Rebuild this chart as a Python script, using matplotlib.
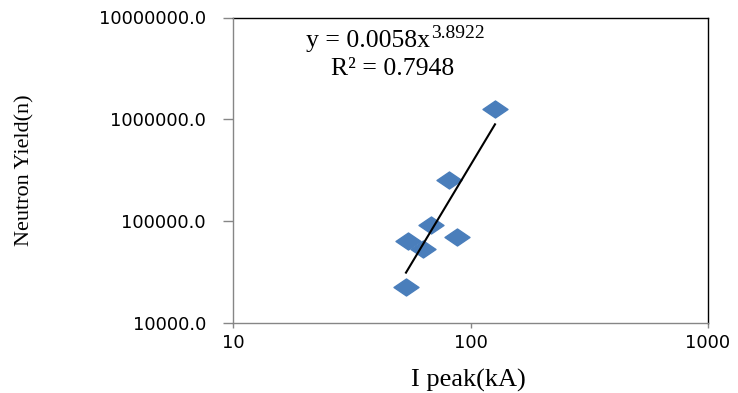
import matplotlib
matplotlib.use("Agg")
import matplotlib.pyplot as plt
import numpy as np
from matplotlib.path import Path
from matplotlib.ticker import FixedLocator, FuncFormatter, NullLocator

# Data
i_peak = [126.8, 81.4, 68.2, 87.5, 54.4, 63.3, 53.5]
neutron_yield = [1250000, 255000, 90000, 70000, 63000, 53000, 22300]
fit_coef = 0.0058
fit_exp = 3.8922
r_squared = 0.7948
x_ticks = [10, 100, 1000]
y_ticks = [1e4, 1e5, 1e6, 1e7]

W, H = 738, 393
fig = plt.figure(figsize=(W / 100, H / 100), dpi=100)
left, right, top, bottom = 233, 708, 17.5, 322.5
ax = fig.add_axes([left / W, 1 - bottom / H, (right - left) / W, (bottom - top) / H])

ax.set_xscale('log')
ax.set_yscale('log')
ax.set_xlim(10, 1000)
ax.set_ylim(1e4, 1e7)

diamond = Path([(-1, 0), (0, 0.68), (1, 0), (0, -0.68), (-1, 0)],
               [Path.MOVETO, Path.LINETO, Path.LINETO, Path.LINETO, Path.CLOSEPOLY])
ax.plot(i_peak, neutron_yield, linestyle='none', marker=diamond, markersize=18,
        markerfacecolor='#4A7EBB', markeredgecolor='#4A7EBB', zorder=3)

xf = np.linspace(min(i_peak), max(i_peak), 100)
yf = fit_coef * xf ** fit_exp
ax.plot(xf, yf, color='black', linewidth=1.5, zorder=4)

ax.xaxis.set_major_locator(FixedLocator(x_ticks))
ax.yaxis.set_major_locator(FixedLocator(y_ticks))
ax.xaxis.set_minor_locator(NullLocator())
ax.yaxis.set_minor_locator(NullLocator())
ax.xaxis.set_major_formatter(FuncFormatter(lambda v, p: f"{v:.0f}"))
ax.yaxis.set_major_formatter(FuncFormatter(lambda v, p: f"{v:.1f}"))

for lab in ax.get_xticklabels() + ax.get_yticklabels():
    lab.set_fontfamily('DejaVu Sans')
    lab.set_fontsize(13)
    lab.set_color('black')

ax.tick_params(axis='y', direction='out', length=7, width=1, color='#868686', pad=12.5)
ax.tick_params(axis='x', direction='out', length=3.6, width=1, color='#868686', pad=5)

for s in ['left', 'bottom']:
    ax.spines[s].set_color('#868686')
    ax.spines[s].set_linewidth(1)
for s in ['top', 'right']:
    ax.spines[s].set_color('black')
    ax.spines[s].set_linewidth(1)
ax.spines['left'].set_zorder(5)
ax.spines['bottom'].set_zorder(5)

ax.set_xlabel('I peak(kA)', fontfamily='Liberation Serif', fontsize=19)
ax.xaxis.label.set_va('center')
ax.xaxis.set_label_coords((468 - left) / (right - left), (bottom - 380) / (bottom - top))
ax.set_ylabel('Neutron Yield(n)', fontfamily='Liberation Serif', fontsize=16)
ax.yaxis.label.set_va('center')
ax.yaxis.set_label_coords((25 - left) / (right - left), 0.5)

fig.text(430 / W, 1 - 41 / H, f'y = {fit_coef}x',
         fontfamily='Liberation Serif', fontsize=18.5, ha='right', va='center')
fig.text(431 / W, 1 - 33 / H, f'{fit_exp}',
         fontfamily='Liberation Serif', fontsize=14, ha='left', va='center')
fig.text(393 / W, 1 - 69 / H, f'R² = {r_squared}',
         fontfamily='Liberation Serif', fontsize=18.5, ha='center', va='center')

fig.savefig('out.png', dpi=100)
